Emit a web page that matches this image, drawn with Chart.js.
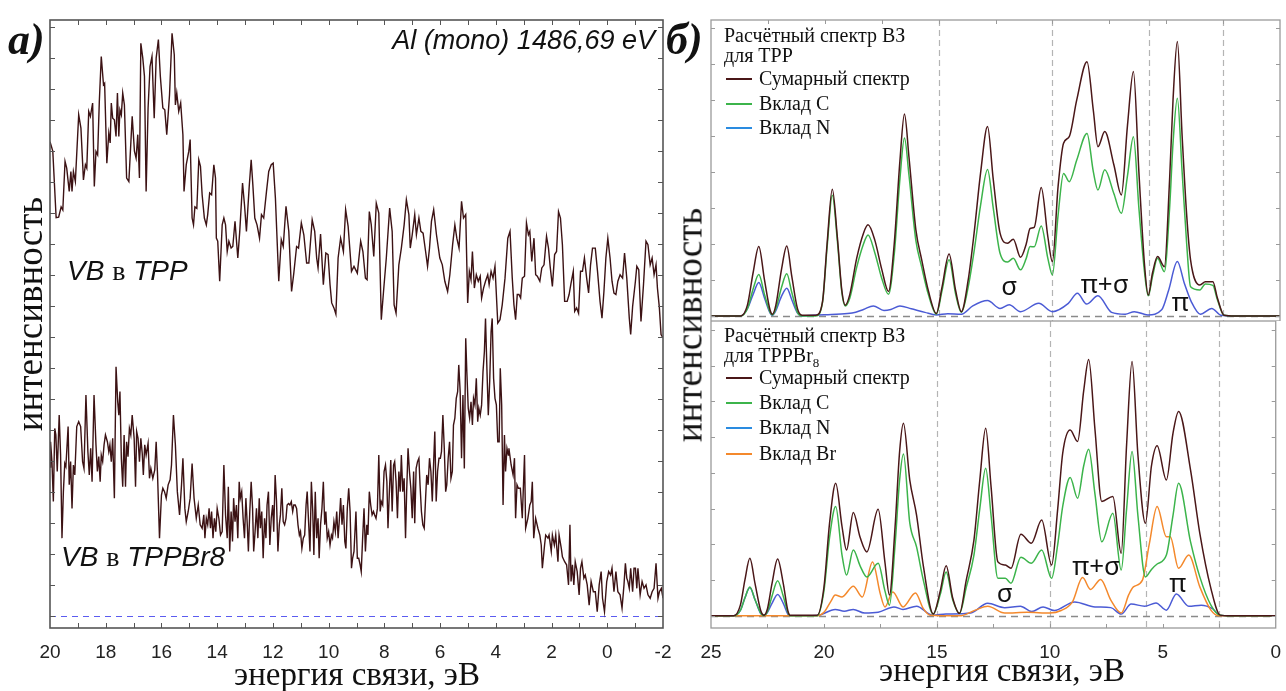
<!DOCTYPE html>
<html>
<head>
<meta charset="utf-8">
<script src="https://cdn.jsdelivr.net/npm/chart.js@4.4.1/dist/chart.umd.min.js"></script>
<style>
  body { margin: 0; background: #fff; }
  #fig { position: relative; width: 1286px; height: 691px; overflow: hidden; background: #fff; }
  canvas { position: absolute; }
  .t { position: absolute; white-space: nowrap; line-height: 1; color: #111; }
  .serif { font-family: "Liberation Serif", "Times New Roman", serif; }
  .sans { font-family: "Liberation Sans", Arial, sans-serif; }
  .lab { font: bold italic 44px "Liberation Serif", serif; }
  .ytitle { font: 37px "Liberation Serif", serif; transform: translate(-50%, -50%) rotate(-90deg); }
  .xtitle { font: 33px "Liberation Serif", serif; transform: translateX(-50%); }
  .vb { font: italic 28px "Liberation Sans", Arial, sans-serif; }
  .vb span { font: 28px "Liberation Serif", serif; font-style: normal; }
  .leg { font: 20px "Liberation Serif", serif; }
  .leg i { display: inline-block; width: 26px; height: 2px; vertical-align: middle; margin: 0 7px 0 2px; position: relative; top: -1px; }
</style>
</head>
<body>
<div id="fig">
  <canvas id="cA" width="680" height="691" style="left:0;top:0"></canvas>
  <canvas id="cB" width="596" height="321" style="left:690px;top:0"></canvas>
  <canvas id="cC" width="596" height="370" style="left:690px;top:321px"></canvas>

  <div class="t lab" style="left:8px;top:14px">а)</div>
  <div class="t lab" style="left:666px;top:14px">б)</div>

  <div class="t sans" style="right:631px;top:27px;font-style:italic;font-size:27px">Al (mono) 1486,69 eV</div>
  <div class="t vb" style="left:67px;top:255px">VB <span>в</span> TPP</div>
  <div class="t vb" style="left:61px;top:541px">VB <span>в</span> TPPBr8</div>

  <div class="t ytitle" style="left:29px;top:314px">интенсивность</div>
  <div class="t ytitle" style="left:689px;top:325px">интенсивность</div>
  <div class="t xtitle" style="left:357px;top:656px">энергия связи, эВ</div>
  <div class="t xtitle" style="left:1002px;top:652px">энергия связи, эВ</div>

  <div class="t leg" style="left:724px;top:24px">Расчётный спектр ВЗ</div>
  <div class="t leg" style="left:724px;top:44px">для TPP</div>
  <div class="t leg" style="left:724px;top:67px"><i style="background:#4a1718"></i>Сумарный спектр</div>
  <div class="t leg" style="left:724px;top:92px"><i style="background:#3cb44b"></i>Вклад C</div>
  <div class="t leg" style="left:724px;top:116px"><i style="background:#2a8be0"></i>Вклад N</div>

  <div class="t leg" style="left:724px;top:324px">Расчётный спектр ВЗ</div>
  <div class="t leg" style="left:724px;top:344px">для TPPBr<sub style="font-size:13px">8</sub></div>
  <div class="t leg" style="left:724px;top:366px"><i style="background:#4a1718"></i>Сумарный спектр</div>
  <div class="t leg" style="left:724px;top:391px"><i style="background:#3cb44b"></i>Вклад C</div>
  <div class="t leg" style="left:724px;top:416px"><i style="background:#2a8be0"></i>Вклад N</div>
  <div class="t leg" style="left:724px;top:442px"><i style="background:#f4892c"></i>Вклад Br</div>
</div>

<script>
// measured XPS valence band, TPP (binding energy, eV / intensity)
var tppE = [20.00,19.90,19.78,19.69,19.60,19.54,19.46,19.40,19.31,19.25,19.21,19.16,19.09,18.97,18.89,18.80,18.73,18.68,18.61,18.55,
  18.47,18.41,18.35,18.29,18.23,18.16,18.08,18.04,17.96,17.89,17.84,17.80,17.75,17.69,17.63,17.58,17.53,17.49,17.44,17.39,
  17.33,17.25,17.17,17.05,16.97,16.91,16.85,16.79,16.74,16.67,16.61,16.55,16.48,16.41,16.34,16.26,16.19,16.11,16.04,15.95,
  15.88,15.81,15.71,15.62,15.54,15.50,15.45,15.38,15.31,15.23,15.19,15.11,15.02,14.97,14.90,14.85,14.80,14.73,14.66,
  14.60,14.54,14.46,14.39,14.34,14.27,14.20,14.12,14.06,14.03,13.98,13.91,13.82,13.76,13.70,13.64,13.58,13.50,13.44,13.36,
  13.26,13.19,13.09,13.02,12.95,12.85,12.78,12.72,12.65,12.57,12.48,12.41,12.33,12.23,12.15,12.06,11.99,11.91,11.79,11.70,
  11.63,11.53,11.43,11.33,11.25,11.15,11.08,10.98,10.89,10.79,10.71,10.59,10.50,10.43,10.38,10.29,10.19,10.10,10.02,9.95,
  9.89,9.81,9.74,9.66,9.57,9.47,9.39,9.30,9.18,9.09,
  8.97,8.85,8.77,8.68,8.62,8.54,8.47,8.38,8.29,8.20,8.11,8.03,7.93,7.81,7.72,7.65,7.58,7.48,7.39,7.29,
  7.21,7.12,7.07,7.00,6.91,6.85,6.76,6.69,6.61,6.52,6.45,6.38,6.31,6.23,6.13,6.01,5.92,5.83,5.73,5.65,
  5.55,5.47,5.40,5.32,5.23,5.16,5.08,5.01,4.95,4.89,4.84,4.77,4.70,4.63,4.56,4.51,4.44,4.37,4.29,4.24,
  4.17,4.10,4.03,3.93,3.85,3.77,3.67,3.57,3.49,
  3.41,3.35,3.29,3.23,3.17,3.11,3.05,2.97,2.90,2.83,2.78,2.71,2.63,2.57,2.51,2.42,2.35,2.27,2.18,2.11,
  2.05,1.97,1.89,1.82,1.75,1.68,1.61,1.53,1.44,1.37,1.30,1.22,1.17,1.10,1.03,0.96,0.89,0.82,0.74,0.67,
  0.60,0.53,0.43,0.35,0.26,0.19,0.12,0.05,-0.02,-0.10,-0.17,-0.24,-0.31,-0.38,-0.46,-0.55,-0.62,-0.70,-0.79,-0.84,
  -0.91,-1.01,-1.06,-1.13,-1.21,-1.30,-1.39,-1.46,-1.54,-1.61,-1.68,-1.75,-1.80,-1.87,-1.93,-2.00];
var tppI = [15.3,15.0,12.85,12.87,13.2,13.1,14.67,14.45,13.7,14.34,13.7,14.34,14.02,16.17,15.74,14.07,14.56,14.45,16.28,16.12,
  16.55,13.86,14.99,14.88,16.6,18.05,17.14,17.19,14.61,15.58,15.26,16.55,16.06,16.01,15.47,16.87,15.47,16.33,16.17,16.87,
  16.49,14.13,14.02,16.12,15.0,14.77,15.53,14.13,18.48,18.0,17.41,13.7,16.39,17.73,18.05,16.06,18.0,18.6,17.41,16.39,
  16.33,15.53,16.82,18.8,18.11,16.49,16.87,16.28,16.55,15.53,13.7,14.56,14.99,15.37,12.84,12.62,13.2,13.15,14.72,
  14.51,13.59,12.84,12.62,12.95,13.65,13.59,14.56,14.13,12.19,12.09,10.80,12.62,12.84,12.62,11.76,12.09,11.87,11.92,12.73,
  11.55,12.41,13.97,13.27,12.41,13.86,14.72,13.91,12.84,12.62,12.19,12.95,12.84,13.70,14.34,14.56,14.61,13.48,10.80,12.14,
  11.92,13.22,12.41,10.47,11.06,11.92,11.87,12.68,12.30,11.39,11.39,12.78,12.41,11.55,11.23,12.32,10.69,11.71,11.66,10.69,
  10.10,9.94,9.74,11.55,12.19,11.76,13.11,12.57,11.12,11.28,
  11.06,12.09,11.76,10.90,10.85,13.05,12.62,11.60,13.32,13.00,9.56,10.47,11.55,13.16,12.41,10.04,9.77,11.33,11.87,12.62,
  13.43,12.95,11.87,12.30,12.95,12.30,12.84,12.41,12.35,11.76,11.28,11.87,12.73,13.11,12.30,11.55,11.33,10.80,10.47,11.01,
  11.98,12.62,12.19,11.87,13.38,12.84,12.95,10.10,11.12,10.85,11.76,10.58,11.01,10.80,10.96,10.26,10.58,10.80,11.01,10.69,
  11.12,10.90,11.28,9.45,9.56,10.04,10.90,12.19,12.41,
  10.90,10.04,9.56,10.37,10.37,10.26,10.90,10.96,12.68,12.30,12.41,11.44,12.19,11.01,10.96,10.80,11.23,11.33,12.25,11.87,
  11.28,10.63,11.66,11.76,13.05,12.84,11.98,10.15,10.15,10.37,10.74,11.12,9.83,9.94,9.77,11.12,11.12,11.55,10.90,10.42,
  11.33,11.87,11.87,11.12,10.15,9.61,10.47,11.55,12.19,11.55,10.80,10.42,10.37,10.80,11.01,10.90,11.71,10.90,9.61,9.08,
  9.99,10.80,11.28,11.17,9.50,10.69,12.09,11.98,11.33,11.55,11.01,11.33,10.58,9.94,9.08,8.97];

// measured XPS valence band, TPPBr8
var brE = [20.00,19.98,19.93,19.88,19.83,19.79,19.74,19.67,19.62,19.57,19.52,19.47,19.43,19.35,19.31,19.26,19.21,19.16,19.11,19.04,18.97,
  18.90,18.83,18.78,18.71,18.64,18.59,18.54,18.49,18.42,18.35,18.30,18.25,18.20,18.16,18.11,18.06,18.01,17.94,17.89,17.85,
  17.80,17.75,17.69,17.63,17.57,17.53,17.49,17.44,17.39,17.34,17.29,17.25,17.20,17.15,17.10,17.05,16.98,16.93,16.89,16.84,
  16.79,16.74,16.69,16.65,16.60,16.55,16.48,16.43,16.38,16.31,16.24,16.19,16.14,16.07,16.00,15.95,15.89,15.83,15.76,15.69,
  15.64,15.57,15.50,15.43,15.35,15.28,15.23,15.16,15.11,15.04,14.97,14.90,14.83,14.75,14.68,14.61,
  14.54,14.48,14.44,14.39,14.34,14.29,14.24,14.20,14.15,14.10,14.05,14.00,13.94,13.88,13.82,13.76,13.70,13.64,13.60,13.55,
  13.50,13.45,13.41,13.36,13.31,13.26,13.21,13.17,13.12,13.07,13.02,12.97,12.92,12.88,12.83,12.78,12.73,12.69,12.64,12.59,
  12.54,12.49,12.45,12.40,12.35,12.30,12.25,12.21,12.16,12.11,12.06,12.01,11.97,11.92,11.87,11.82,11.77,11.73,11.68,11.63,
  11.58,11.53,11.49,11.44,11.39,11.34,11.29,11.25,11.20,11.15,11.10,11.05,11.01,10.96,10.91,10.86,10.81,10.77,10.72,10.67,
  10.62,10.57,10.53,10.48,10.43,10.38,10.34,10.29,10.24,10.19,10.14,10.10,10.05,10.00,9.95,9.90,9.86,9.81,9.76,9.71,
  9.66,9.62,9.57,9.52,9.47,9.42,9.38,9.33,9.28,9.23,9.18,9.14,9.09,9.02,
  8.97,8.92,8.87,8.83,8.78,8.73,8.68,8.63,8.59,8.54,8.49,8.44,8.39,8.35,8.30,8.25,8.20,8.15,8.11,8.06,
  8.01,7.96,7.91,7.87,7.82,7.77,7.72,7.67,7.63,7.58,7.53,7.48,7.43,7.39,7.34,7.29,7.24,7.20,7.15,7.10,
  7.05,7.00,6.95,6.91,6.86,6.81,6.76,6.72,6.67,6.62,6.57,6.52,6.48,6.43,6.38,6.33,6.28,6.23,6.19,6.14,
  6.09,6.04,5.99,5.95,5.90,5.85,5.80,5.76,5.71,5.66,5.61,5.56,5.52,5.47,5.42,5.37,5.33,5.28,5.23,5.18,
  5.13,5.08,5.04,4.99,4.94,4.89,4.84,4.80,4.75,4.70,4.65,4.61,4.56,4.51,4.46,4.41,4.37,4.32,4.27,4.22,
  4.17,4.13,4.08,4.03,3.98,3.93,3.88,3.84,3.79,3.74,3.69,3.65,3.60,3.55,
  3.53,3.45,3.38,3.33,3.29,3.24,3.19,3.12,3.05,2.97,2.93,2.85,2.78,2.73,2.69,2.64,2.57,2.49,2.42,2.37,
  2.33,2.25,2.21,2.13,2.09,2.01,1.97,1.90,1.85,1.77,1.73,1.65,1.61,1.53,1.46,1.39,1.34,1.30,1.25,1.20,
  1.15,1.08,1.01,0.96,0.91,0.84,0.79,0.72,0.65,0.58,0.50,0.43,0.36,0.29,0.22,0.17,0.10,0.02,-0.05,-0.12,
  -0.17,-0.24,-0.31,-0.38,-0.46,-0.53,-0.60,-0.65,-0.70,-0.74,-0.79,-0.84,-0.91,-0.96,-1.01,-1.06,-1.10,-1.18,-1.25,-1.32,
  -1.39,-1.46,-1.54,-1.61,-1.68,-1.75,-1.82,-1.87,-1.94,-2.00];
var brI = [4.8,5.62,4.98,3.69,6.05,5.84,4.66,6.48,5.19,2.51,4.01,4.92,4.82,6.11,4.23,4.98,3.47,4.87,4.55,6.11,6.27,
  6.11,4.98,4.76,7.13,5.30,4.55,5.41,4.33,7.13,5.52,4.66,5.14,4.33,5.19,4.98,5.52,5.84,5.62,5.30,5.52,
  4.98,5.73,3.80,8.04,6.91,6.48,7.24,5.09,4.17,5.84,4.17,5.62,5.14,6.05,5.84,6.48,5.73,4.17,5.95,5.73,
  4.98,5.73,5.25,4.55,5.52,5.19,5.57,4.44,4.76,4.44,4.71,5.62,4.55,2.51,3.90,4.12,4.01,3.80,4.23,4.39,
  4.87,6.48,5.52,4.01,3.26,4.23,5.09,3.47,3.04,3.37,3.80,4.92,3.80,3.15,3.58,2.94,
  2.83,3.26,2.51,3.15,2.94,3.47,2.83,3.37,2.51,3.15,2.72,3.47,3.15,2.61,2.72,4.87,3.26,2.51,4.17,2.08,
  3.37,2.40,3.80,3.04,3.58,2.51,4.33,3.80,4.01,3.15,2.51,3.80,2.94,2.08,3.37,4.33,3.47,2.08,2.72,3.47,
  2.51,3.80,2.83,3.37,1.86,3.15,2.51,3.58,4.01,2.29,3.15,3.58,2.72,4.55,3.69,2.08,2.94,3.26,4.12,3.04,
  2.94,3.15,3.58,3.63,3.58,3.69,3.37,3.58,3.58,3.47,2.94,2.61,2.72,2.18,2.51,2.61,3.58,4.01,3.04,2.08,
  4.33,3.37,1.97,4.01,2.51,3.15,1.86,2.94,3.47,4.33,2.94,3.37,2.51,2.72,2.29,2.61,2.51,3.04,2.72,3.37,
  2.51,3.04,3.80,2.94,3.58,2.40,2.18,3.47,4.12,3.37,1.54,1.86,2.08,3.37,
  1.86,1.86,1.65,1.43,2.51,3.47,2.08,2.94,2.61,4.01,3.58,3.26,3.37,3.26,3.15,3.47,5.19,3.37,3.69,3.58,
  4.66,4.87,4.33,2.83,4.01,5.03,3.37,4.87,4.98,4.33,3.15,4.66,4.01,5.19,4.01,4.44,2.51,4.01,5.41,4.66,
  4.12,3.15,4.66,2.99,4.76,4.98,5.09,4.23,3.37,2.94,2.83,3.80,4.55,4.23,5.09,4.66,3.69,4.98,5.95,3.69,
  4.66,5.09,5.09,5.30,6.48,5.41,4.01,4.23,5.09,5.62,4.44,4.66,6.16,6.38,7.02,7.24,8.10,7.24,5.09,7.13,
  4.76,8.96,7.88,6.70,6.38,6.91,6.16,7.02,6.81,7.67,6.27,6.70,6.48,6.81,7.88,8.53,9.60,7.99,6.48,7.56,
  9.17,9.60,7.67,7.02,6.81,5.62,5.62,7.99,6.81,3.58,5.84,4.66,5.41,5.19,
  5.41,4.87,4.55,5.09,3.15,4.23,4.12,4.12,3.15,5.19,2.83,3.15,3.58,3.69,4.33,2.51,3.15,2.83,2.61,2.29,
  1.54,2.29,2.61,2.51,2.61,2.08,2.61,2.29,2.61,1.75,2.61,2.18,1.91,1.75,1.65,1.00,2.94,1.11,1.65,1.00,
  1.75,1.43,0.68,1.54,1.75,1.22,1.32,1.00,0.35,1.11,0.78,0.78,0.14,1.00,1.43,0.57,0.14,1.11,1.43,1.32,
  1.54,0.78,1.43,0.78,0.68,0.25,1.00,1.70,1.22,1.11,0.89,1.54,0.78,1.54,1.54,0.89,1.54,0.68,1.11,0.89,
  1.00,0.68,0.57,0.78,0.89,1.70,0.57,0.78,0.89,0.57];

// calculated VB spectrum, TPP
var calcE1 = [25,23.7,23.4,23.15,22.9,22.65,22.4,22.3,22.15,21.9,21.67,21.45,21.2,21.0,20.4,20.1,19.9,19.67,19.45,19.25,
  19.1,18.9,18.6,18.3,18.1,17.8,17.5,17.2,16.95,16.7,16.5,16.3,16.0,15.74,15.45,15.1,14.85,14.54,14.25,14.0,
  13.7,13.44,13.15,12.85,12.6,12.3,11.97,11.72,11.4,11.15,10.98,10.8,10.49,10.2,10.0,9.75,9.51,9.26,8.93,8.48,
  8.2,8.0,7.7,7.3,6.97,6.7,6.44,6.2,5.95,5.79,5.6,5.38,5.08,4.85,4.7,4.51,4.3,4.1,3.93,3.52,3.28,2.95,2.75,2.46,2.0,0];
var sum1 = [0,0,0.3,1.2,1.93,1.0,0.15,0.05,0.3,1.3,1.94,1.1,0.2,0.02,0.02,0.4,2.0,3.52,2.2,0.7,
  0.3,0.6,1.6,2.3,2.53,2.1,1.3,0.68,2.0,4.3,5.61,4.4,2.4,1.55,0.7,0.07,0.8,1.72,0.7,0.12,
  1.0,2.3,4.0,5.26,3.8,2.3,2.02,2.13,1.63,2.0,2.43,2.46,3.57,2.2,1.51,3.6,4.8,4.98,6.0,7.06,
  5.7,4.7,5.12,4.2,3.36,5.3,6.79,4.0,1.4,0.58,1.2,1.65,1.37,3.8,6.0,7.62,5.0,2.8,1.56,0.86,0.95,0.95,0.5,0.02,0,0];
var carb1 = [0,0,0.2,0.75,1.15,0.6,0.1,0.03,0.2,0.8,1.17,0.65,0.1,0,0,0.38,1.9,3.35,2.1,0.65,
  0.28,0.5,1.35,2.0,2.25,1.75,1.05,0.6,1.7,3.8,4.94,3.9,2.1,1.35,0.6,0.05,0.7,1.56,0.6,0.1,
  0.8,1.8,3.1,4.07,3.0,1.74,1.5,1.6,1.28,1.6,1.93,1.92,2.5,1.6,1.14,2.8,3.96,3.73,4.33,5.07,
  4.0,3.5,4.06,3.4,2.85,3.9,4.98,3.0,1.2,0.56,1.1,1.6,1.23,3.0,4.8,6.05,4.0,2.0,0.81,0.72,0.89,0.85,0.45,0.02,0,0];
var nitE1 = [25,23.7,23.4,23.15,22.9,22.65,22.4,22.3,22.15,21.9,21.67,21.45,21.2,21.0,20.5,19.5,18.8,18.3,17.87,17.4,
  17.1,16.7,16.2,15.6,15.1,14.6,14.0,13.5,12.85,12.3,11.9,11.4,10.6,10.0,9.3,8.9,8.5,8.0,7.4,6.8,
  6.4,5.8,5.2,4.9,4.51,4.2,3.9,3.5,3.0,2.6,2.0,0];
var nit1 = [0,0,0.2,0.6,0.93,0.5,0.08,0.02,0.15,0.55,0.77,0.45,0.08,0,0.02,0.05,0.08,0.18,0.28,0.15,
  0.18,0.28,0.2,0.1,0.03,0.06,0.05,0.28,0.43,0.21,0.31,0.12,0.35,0.12,0.35,0.63,0.33,0.56,0.1,0.05,
  0.12,0.03,0.17,0.7,1.51,0.9,0.4,0.05,0.21,0.02,0,0];

// calculated VB spectrum, TPPBr8
var calcE2 = [25,24.0,23.7,23.5,23.28,23.05,22.8,22.66,22.5,22.3,22.05,21.8,21.6,21.5,20.3,20.0,19.75,19.48,19.2,19.0,
  18.7,18.4,18.1,17.6,17.3,17.1,16.85,16.65,16.48,16.2,15.9,15.6,15.16,14.85,14.59,14.3,14.0,13.7,13.36,13.1,
  12.84,12.6,12.3,11.97,11.72,11.28,10.82,10.36,9.92,9.65,9.43,9.1,8.77,8.5,8.28,8.0,7.7,7.21,6.84,6.6,
  6.36,6.1,5.77,5.5,5.25,4.84,4.55,4.3,3.77,3.36,2.87,2.46,2.0,0];
var sum2 = [0,0,0.3,1.0,1.61,0.9,0.15,0.02,0.2,0.9,1.59,0.9,0.15,0.02,0.02,0.8,2.6,3.71,2.5,1.84,
  2.89,2.2,1.79,2.98,1.5,0.58,2.5,4.6,5.39,3.8,2.82,1.4,0.05,0.7,1.4,0.5,0.07,1.0,2.12,3.8,
  5.25,3.6,1.51,1.42,1.33,2.28,2.03,2.68,1.42,3.0,4.55,5.2,4.88,6.3,7.17,5.2,3.2,3.34,1.75,4.8,
  7.12,4.5,2.59,4.2,4.76,3.8,5.1,5.72,4.08,2.31,0.77,0.02,0,0];
var carb2 = [0,0,0.15,0.5,0.81,0.45,0.08,0.01,0.12,0.55,0.98,0.55,0.1,0,0,0.7,2.2,3.06,1.7,1.14,
  1.84,1.4,1.09,1.47,0.7,0.3,2.0,3.8,4.53,2.6,1.93,1.0,0.05,0.6,1.23,0.45,0.07,0.8,1.7,3.0,
  4.13,2.8,1.05,1.05,0.91,1.64,1.47,1.84,1.05,2.0,3.06,3.87,3.29,4.2,4.66,3.4,2.07,2.87,1.28,3.0,
  4.6,2.8,1.09,1.3,1.45,1.7,2.8,3.71,2.07,1.09,0.3,0.02,0,0];
var nitE2 = [25,24.0,23.7,23.5,23.28,23.05,22.8,22.66,22.5,22.3,22.05,21.8,21.6,21.5,20.3,19.5,19.1,18.7,18.2,17.6,
  16.9,16.5,15.9,15.2,14.6,13.5,12.75,12.0,11.3,10.8,10.3,9.8,8.9,8.0,7.3,6.84,6.4,5.8,5.3,4.84,
  4.4,3.85,3.3,2.8,2.46,2.0,0];
var nit2 = [0,0,0.15,0.5,0.79,0.45,0.06,0.01,0.1,0.35,0.6,0.35,0.05,0,0.01,0.18,0.13,0.18,0.08,0.1,
  0.25,0.18,0.27,0.02,0.05,0.08,0.35,0.23,0.27,0.12,0.25,0.15,0.39,0.25,0.23,0.05,0.33,0.27,0.36,0.16,
  0.61,0.27,0.3,0.2,0.01,0,0];
var bromE2 = [25,20.3,20.0,19.7,19.5,19.2,18.7,18.3,17.85,17.5,17.3,16.95,16.5,15.95,15.6,15.3,14.0,13.3,12.75,12.0,
  11.0,10.0,9.5,9.0,8.55,8.2,7.75,7.3,6.84,6.5,6.3,5.9,5.6,5.25,4.84,4.67,4.3,3.85,3.36,2.87,2.5,0];
var brom2 = [0,0,0.1,0.4,0.58,0.53,0.83,0.53,1.51,0.6,0.25,0.67,0.25,0.64,0.2,0.02,0,0.16,0.27,0.08,
  0.1,0.08,0.15,0.39,1.07,0.74,1.02,0.44,0.08,0.6,0.81,1.0,2.0,3.06,2.21,2.21,1.33,1.7,0.81,0.16,0,0];

var guideLines = [15, 10, 5.75, 2.5];

var cBrown = '#3c1214', cSum = '#4a1718', cC = '#3cb44b', cN = '#4b5bd5', cBr = '#f4892c';

Chart.defaults.font.family = "'Liberation Sans', Arial, sans-serif";
Chart.defaults.color = '#222';

function pts(xs, ys) {
  var out = [];
  for (var i = 0; i < Math.min(xs.length, ys.length); i++) out.push({x: xs[i], y: ys[i]});
  return out;
}

function line(xs, ys, color, smooth, w) {
  return {
    data: pts(xs, ys), borderColor: color, borderWidth: w, pointRadius: 0, fill: false,
    tension: 0, cubicInterpolationMode: smooth ? 'monotone' : 'default'
  };
}

function steps(scale, step, fn) {
  var v0 = Math.ceil(scale.min / step - 1e-9);
  for (var i = v0; i * step <= scale.max + 1e-9; i++) fn(i * step);
}

// frame, inward ticks, dashed guides, text notes
var framePlugin = {
  id: 'frame',
  beforeDatasetsDraw: function (chart, args, o) {
    var a = chart.chartArea, ctx = chart.ctx, xs = chart.scales.x, ys = chart.scales.y;
    ctx.save();
    ctx.beginPath();
    ctx.rect(a.left, a.top, a.right - a.left, a.bottom - a.top);
    ctx.clip();
    (o.vlines || []).forEach(function (v) {
      var px = Math.round(xs.getPixelForValue(v)) + 0.5;
      ctx.strokeStyle = '#b4b4b4';
      ctx.lineWidth = 1.2;
      ctx.setLineDash([6, 4]);
      ctx.beginPath(); ctx.moveTo(px, a.top); ctx.lineTo(px, a.bottom); ctx.stroke();
    });
    if (o.zero) {
      var py = Math.round(ys.getPixelForValue(0)) + 0.5;
      ctx.strokeStyle = o.zero.color;
      ctx.lineWidth = o.zero.width;
      ctx.setLineDash(o.zero.dash);
      ctx.beginPath(); ctx.moveTo(a.left, py); ctx.lineTo(a.right, py); ctx.stroke();
    }
    ctx.restore();
  },
  afterDraw: function (chart, args, o) {
    var a = chart.chartArea, ctx = chart.ctx, xs = chart.scales.x, ys = chart.scales.y;
    var len = o.tick;
    ctx.save();
    ctx.strokeStyle = o.color;
    ctx.lineWidth = o.width;
    ctx.strokeRect(a.left, a.top, a.right - a.left, a.bottom - a.top);
    ctx.lineWidth = 1;
    ctx.beginPath();
    steps(xs, o.xStep, function (v) {
      var px = Math.round(xs.getPixelForValue(v)) + 0.5;
      if (px < a.left + 2 || px > a.right - 2) return;
      if (o.bottom) { ctx.moveTo(px, a.bottom); ctx.lineTo(px, a.bottom - len); }
      if (o.top) { ctx.moveTo(px, a.top); ctx.lineTo(px, a.top + len); }
    });
    steps(ys, o.yStep, function (v) {
      var py = Math.round(ys.getPixelForValue(v)) + 0.5;
      if (py < a.top + 2 || py > a.bottom - 2) return;
      ctx.moveTo(a.left, py); ctx.lineTo(a.left + len, py);
      ctx.moveTo(a.right, py); ctx.lineTo(a.right - len, py);
    });
    ctx.stroke();
    ctx.fillStyle = '#111';
    ctx.font = "26px 'Noto Sans'";
    ctx.textAlign = 'center';
    ctx.textBaseline = 'middle';
    (o.notes || []).forEach(function (n) {
      ctx.fillText(n.text, xs.getPixelForValue(n.x), ys.getPixelForValue(n.y));
    });
    ctx.restore();
  }
};

function baseOpts(cfg) {
  return {
    responsive: false, animation: false, devicePixelRatio: 1,
    layout: {padding: cfg.padding},
    plugins: {legend: {display: false}, tooltip: {enabled: false}, frame: cfg.frame},
    scales: {
      x: {
        type: 'linear', reverse: true, min: cfg.xMin, max: cfg.xMax,
        grid: {display: false}, border: {display: false},
        ticks: {
          display: cfg.xLabels, stepSize: cfg.xStep, autoSkip: false, maxRotation: 0, padding: 5,
          color: '#222', font: {size: 19},
          callback: function (v) { return Math.abs(v % cfg.labelEvery) < 1e-6 ? String(v) : ''; }
        },
        afterFit: function (s) { s.height = cfg.xHeight; }
      },
      y: {
        min: cfg.yMin, max: cfg.yMax,
        grid: {display: false}, border: {display: false}, ticks: {display: false},
        afterFit: function (s) { s.width = cfg.yWidth; }
      }
    }
  };
}

new Chart(document.getElementById('cA'), {
  type: 'line',
  data: {datasets: [
    line(tppE, tppI, cBrown, false, 1.4),
    line(brE, brI, cBrown, false, 1.4)
  ]},
  options: baseOpts({
    padding: {top: 20, right: 17, left: 0, bottom: 0},
    xMin: -2, xMax: 20, xStep: 1, labelEvery: 2, xLabels: true, xHeight: 63,
    yMin: -0.39, yMax: 19.23, yWidth: 50,
    frame: {color: '#555', width: 1.6, tick: 5, xStep: 1, yStep: 1, top: true, bottom: true,
      zero: {color: '#5b5bf0', width: 1.2, dash: [6, 5]}}
  }),
  plugins: [framePlugin]
});

new Chart(document.getElementById('cB'), {
  type: 'line',
  data: {datasets: [
    line(calcE1, sum1, cSum, true, 1.5),
    line(calcE1, carb1, cC, true, 1.5),
    line(nitE1, nit1, cN, true, 1.5)
  ]},
  options: baseOpts({
    padding: {top: 20, right: 6, left: 0, bottom: 0},
    xMin: 0, xMax: 25, xStep: 2.5, labelEvery: 5, xLabels: false, xHeight: 0,
    yMin: -0.14, yMax: 8.22, yWidth: 21,
    frame: {color: '#9a9a9a', width: 1.3, tick: 4, xStep: 2.5, yStep: 1, top: true, bottom: false,
      vlines: guideLines, zero: {color: '#8a8a8a', width: 1.3, dash: [7, 5]},
      notes: [{x: 11.9, y: 0.8, text: 'σ'}, {x: 7.7, y: 0.85, text: 'π+σ'}, {x: 4.38, y: 0.33, text: 'π'}]}
  }),
  plugins: [framePlugin]
});

new Chart(document.getElementById('cC'), {
  type: 'line',
  data: {datasets: [
    line(calcE2, sum2, cSum, true, 1.5),
    line(calcE2, carb2, cC, true, 1.5),
    line(bromE2, brom2, cBr, true, 1.5),
    line(nitE2, nit2, cN, true, 1.5)
  ]},
  options: baseOpts({
    padding: {top: 0, right: 6, left: 0, bottom: 0},
    xMin: 0, xMax: 25, xStep: 2.5, labelEvery: 5, xLabels: true, xHeight: 63,
    yMin: -0.34, yMax: 8.25, yWidth: 21,
    frame: {color: '#9a9a9a', width: 1.3, tick: 4, xStep: 2.5, yStep: 1, top: false, bottom: true,
      vlines: guideLines, zero: {color: '#8a8a8a', width: 1.3, dash: [7, 5]},
      notes: [{x: 12.0, y: 0.6, text: 'σ'}, {x: 7.95, y: 1.36, text: 'π+σ'}, {x: 4.34, y: 0.88, text: 'π'}]}
  }),
  plugins: [framePlugin]
});
</script>
</body>
</html>
